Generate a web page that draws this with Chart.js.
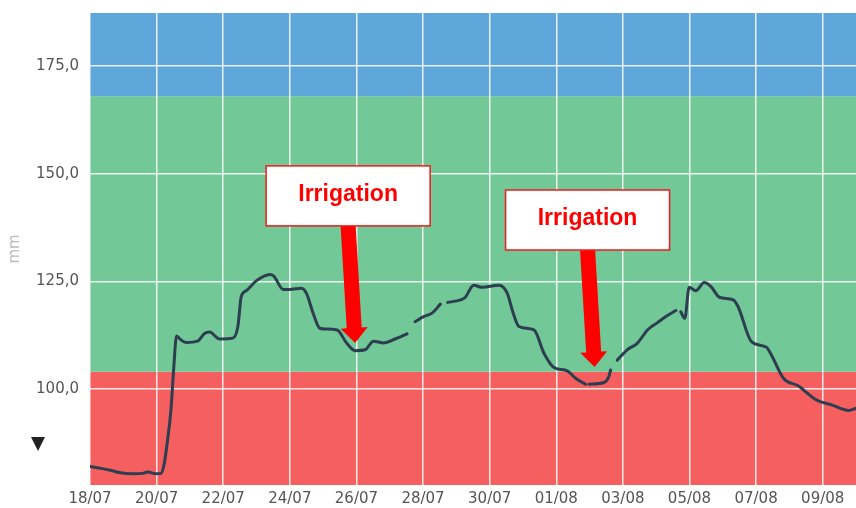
<!DOCTYPE html>
<html>
<head>
<meta charset="utf-8">
<script src="https://cdn.jsdelivr.net/npm/chart.js@4/dist/chart.umd.min.js"></script>
<style>
  html, body { margin: 0; padding: 0; background: #fff; }
  #wrap { width: 856px; height: 508px; }
</style>
</head>
<body>
<div id="wrap"><canvas id="soilChart" width="856" height="508"></canvas></div>
<script>
// Days since 18/07 and soil water reading (mm); null = missing reading (gap)
const days = [
  0, 0.37, 0.67, 0.87, 1.27, 1.58, 1.73, 1.98, 2.13, 2.23, 2.33, 2.43, 2.51, 2.6,
  2.73, 2.88, 3.23, 3.44, 3.59, 3.89, 4.29, 4.44, 4.54, 4.69, 4.99, 5.4, 5.52,
  5.8, 6.0, 6.35, 6.5, 6.7, 6.9, 7.1, 7.42, 7.71, 7.96, 8.26, 8.51, 8.81, 9.16,
  9.52, 9.64, 9.76, 10.02, 10.27, 10.52, 10.62, 10.74, 11.17, 11.27, 11.52,
  11.77, 12.28, 12.53, 12.68, 12.88, 13.33, 13.63, 13.93, 14.33, 14.58, 14.88,
  14.93, 14.98, 15.43, 15.58, 15.63, 15.73, 15.83, 16.13, 16.43, 16.74, 17.04,
  17.29, 17.59, 17.67, 17.74, 17.86, 17.99, 18.19, 18.44, 18.64, 18.9, 19.31,
  19.46, 19.86, 20.31, 20.46, 20.82, 21.27, 21.82, 22.27, 22.78, 23.0
];
const mm = [
  82.0, 81.5, 81.0, 80.6, 80.3, 80.4, 80.7, 80.3, 80.4, 82.7, 88.2, 95.1, 104.4, 112.3,
  111.4, 110.8, 111.1, 112.9, 113.2, 111.6, 111.8, 114.5, 121.4, 122.8, 125.1, 126.6, 126.2,
  123.1, 123.1, 123.4, 122.2, 117.6, 114.1, 113.9, 113.7, 110.6, 108.9, 109.1, 111.1, 110.7, 111.6,
  112.8, null, 115.6, 116.8, 117.6, 119.7, null, 120.1, 120.8, 121.3, 124.1,
  123.6, 124.1, 122.2, 118.3, 114.5, 113.7, 108.3, 105.0, 104.2, 102.5, 101.1,
  null, 101.1, 101.5, 102.9, 104.4, null, 106.7, 109.1, 110.6, 113.7, 115.4,
  116.8, 118.2, null, 117.9, 116.4, 123.6, 122.8, 124.7, 123.8, 121.3, 120.7,
  119.1, 111.0, 109.7, 107.9, 102.5, 100.7, 97.4, 96.3, 95.0, 95.5
];

const startDate = Date.UTC(2019, 6, 18);
const xTicks = [0, 2, 4, 6, 8, 10, 12, 14, 16, 18, 20, 22];
const yTicks = [100, 125, 150, 175];

// Zones: [from, to, colour]
const zoneLimits = [77.7, 104, 168, 187.3];
const zoneColors = ['#f55f5f', '#72c896', '#5fa7db'];

// Irrigation events: where the arrow points (day, mm)
const irrigationDays = [7.96, 15.15];
const irrigationMm = [110.7, 105.1];
const irrigationLabel = 'Irrigation';

function fmtDay(d) {
  const dt = new Date(startDate + d * 86400000);
  const dd = String(dt.getUTCDate()).padStart(2, '0');
  const mo = String(dt.getUTCMonth() + 1).padStart(2, '0');
  return dd + '/' + mo;
}

// background zones, under the grid
const zonesPlugin = {
  id: 'zones',
  beforeDraw(chart) {
    const { ctx, chartArea, scales } = chart;
    ctx.save();
    for (let i = 0; i < zoneColors.length; i++) {
      const yTop = scales.y.getPixelForValue(zoneLimits[i + 1]);
      const yBot = scales.y.getPixelForValue(zoneLimits[i]);
      ctx.fillStyle = zoneColors[i];
      ctx.fillRect(chartArea.left, yTop, chartArea.right - chartArea.left, yBot - yTop);
    }
    ctx.restore();
  }
};

// label boxes + red arrows
const irrigationPlugin = {
  id: 'irrigation',
  afterDatasetsDraw(chart) {
    const { ctx, scales } = chart;
    ctx.save();
    irrigationDays.forEach((d, i) => {
      const tx = scales.x.getPixelForValue(d);
      const ty = scales.y.getPixelForValue(irrigationMm[i]);
      const bw = 164, bh = 60;
      const bx = tx - 7 - bw / 2;
      const by = ty - 147 - bh / 2;

      // arrow
      const sx = tx - 7, sy = by + bh;
      const len = Math.hypot(tx - sx, ty - sy);
      const ux = (tx - sx) / len, uy = (ty - sy) / len;
      const px = -uy, py = ux;
      const headLen = 15, headW = 13.5, shaftW = 7.5;
      const hx = tx - ux * headLen, hy = ty - uy * headLen;
      ctx.fillStyle = '#ff0000';
      ctx.beginPath();
      ctx.moveTo(sx + px * shaftW, sy + py * shaftW);
      ctx.lineTo(hx + px * shaftW, hy + py * shaftW);
      ctx.lineTo(hx + px * headW, hy + py * headW);
      ctx.lineTo(tx, ty);
      ctx.lineTo(hx - px * headW, hy - py * headW);
      ctx.lineTo(hx - px * shaftW, hy - py * shaftW);
      ctx.lineTo(sx - px * shaftW, sy - py * shaftW);
      ctx.closePath();
      ctx.fill();

      // box
      ctx.fillStyle = '#ffffff';
      ctx.fillRect(bx, by, bw, bh);
      ctx.strokeStyle = '#ee1c1c';
      ctx.lineWidth = 1.5;
      ctx.strokeRect(bx, by, bw, bh);
      ctx.fillStyle = '#ff0000';
      ctx.font = 'bold 23px "Liberation Sans", Arial, sans-serif';
      ctx.textAlign = 'center';
      ctx.textBaseline = 'middle';
      ctx.fillText(irrigationLabel, bx + bw / 2, by + bh / 2 - 1);
    });
    ctx.restore();
  }
};

// small marker left of the axis
const markerPlugin = {
  id: 'marker',
  afterDraw(chart) {
    const { ctx, scales } = chart;
    const cx = scales.y.left + 38;
    const cy = scales.y.getPixelForValue(87.2);
    ctx.save();
    ctx.fillStyle = '#222';
    ctx.beginPath();
    ctx.moveTo(cx - 7, cy - 7);
    ctx.lineTo(cx + 7, cy - 7);
    ctx.lineTo(cx, cy + 7);
    ctx.closePath();
    ctx.fill();
    ctx.restore();
  }
};

const gridStyle = { color: 'rgba(255,255,255,0.85)', lineWidth: 1.5, drawTicks: false };
const tickFont = { family: '"DejaVu Sans", sans-serif', size: 15 };

new Chart(document.getElementById('soilChart'), {
  type: 'line',
  data: {
    datasets: [{
      data: days.map((d, i) => ({ x: d, y: mm[i] })),
      borderColor: '#2c3e50',
      borderWidth: 3,
      borderCapStyle: 'round',
      borderJoinStyle: 'round',
      pointRadius: 0,
      fill: false,
      spanGaps: false,
      cubicInterpolationMode: 'monotone'
    }]
  },
  options: {
    responsive: false,
    animation: false,
    devicePixelRatio: 1,
    layout: { padding: { top: 13, right: 0, left: 0, bottom: 0 } },
    plugins: { legend: { display: false }, tooltip: { enabled: false } },
    scales: {
      x: {
        type: 'linear',
        min: 0,
        max: 23,
        afterBuildTicks: s => { s.ticks = xTicks.map(v => ({ value: v })); },
        afterFit: s => { s.height = 23; s.paddingRight = 0; },
        grid: gridStyle,
        border: { display: false },
        ticks: {
          autoSkip: false,
          maxRotation: 0,
          padding: 5,
          color: '#555',
          font: tickFont,
          callback: v => fmtDay(v)
        }
      },
      y: {
        min: zoneLimits[0],
        max: zoneLimits[zoneLimits.length - 1],
        afterBuildTicks: s => { s.ticks = yTicks.map(v => ({ value: v })); },
        afterFit: s => { s.width = 90; s.paddingTop = 0; s.paddingBottom = 0; },
        grid: gridStyle,
        border: { display: false },
        title: {
          display: true,
          text: 'mm',
          color: '#bbbbbb',
          font: { family: '"DejaVu Sans", sans-serif', size: 15 },
          padding: { top: 6, bottom: 0 }
        },
        ticks: {
          padding: 11,
          color: '#555',
          font: tickFont,
          callback: v => v.toFixed(1).replace('.', ',')
        }
      }
    }
  },
  plugins: [zonesPlugin, irrigationPlugin, markerPlugin]
});
</script>
</body>
</html>
